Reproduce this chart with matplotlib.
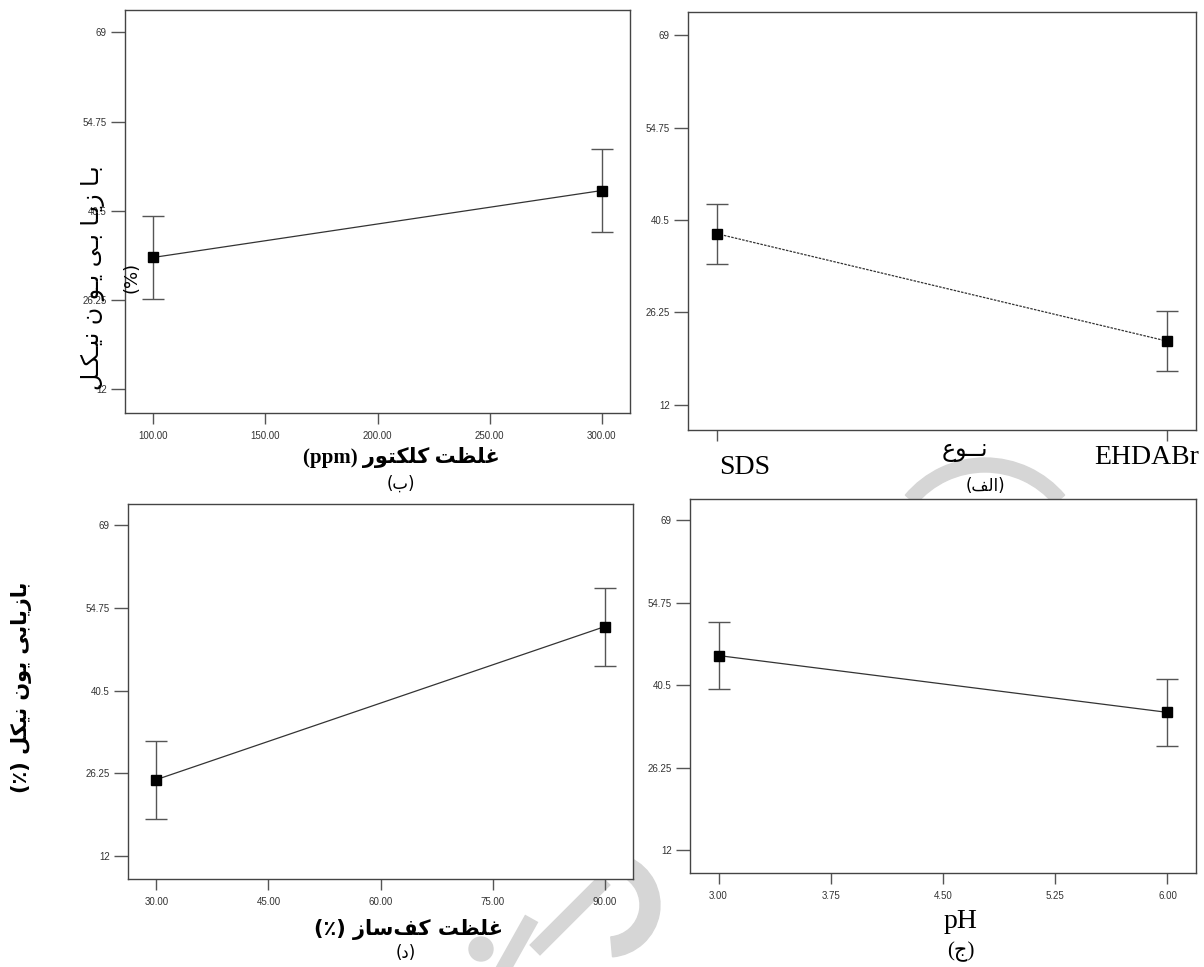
import numpy as np
import matplotlib
matplotlib.use('Agg')
import matplotlib.pyplot as plt
import matplotlib.transforms as mtransforms
from matplotlib.patches import Wedge, Circle
from matplotlib.lines import Line2D

W, H = 1204, 967

# data
y_ticks = [12, 26.25, 40.5, 54.75, 69]
y_tick_labels = ['12', '26.25', '40.5', '54.75', '69']

# (ب) collector concentration
coll_x = [100.0, 300.0]
coll_y = [33.0, 43.7]
coll_err = [6.6, 6.6]
coll_ticks = [100, 150, 200, 250, 300]

# (الف) collector type
type_names = ['SDS', 'EHDABr']
type_y = [38.4, 21.8]
type_err = [4.65, 4.65]

# (د) frother concentration
froth_x = [30.0, 90.0]
froth_y = [25.2, 51.5]
froth_err = [6.7, 6.7]
froth_ticks = [30, 45, 60, 75, 90]

# (ج) pH
ph_x = [3.0, 6.0]
ph_y = [45.6, 35.8]
ph_err = [5.8, 5.8]
ph_ticks = [3.0, 3.75, 4.5, 5.25, 6.0]

# simple arabic shaping (presentation forms), returns visual order
FORMS = {
    'ا': ('\uFE8D', '\uFE8E', None, None),
    'ب': ('\uFE8F', '\uFE90', '\uFE91', '\uFE92'),
    'ت': ('\uFE95', '\uFE96', '\uFE97', '\uFE98'),
    'ر': ('\uFEAD', '\uFEAE', None, None),
    'ز': ('\uFEAF', '\uFEB0', None, None),
    'س': ('\uFEB1', '\uFEB2', '\uFEB3', '\uFEB4'),
    'ظ': ('\uFEC5', '\uFEC6', '\uFEC7', '\uFEC8'),
    'ع': ('\uFEC9', '\uFECA', '\uFECB', '\uFECC'),
    'غ': ('\uFECD', '\uFECE', '\uFECF', '\uFED0'),
    'ف': ('\uFED1', '\uFED2', '\uFED3', '\uFED4'),
    'ک': ('\uFED9', '\uFEDA', '\uFEDB', '\uFEDC'),
    'ل': ('\uFEDD', '\uFEDE', '\uFEDF', '\uFEE0'),
    'ن': ('\uFEE5', '\uFEE6', '\uFEE7', '\uFEE8'),
    'و': ('\uFEED', '\uFEEE', None, None),
    'ی': ('\uFEEF', '\uFEF0', '\uFEF3', '\uFEF4'),
    'ـ': ('ـ', 'ـ', 'ـ', 'ـ'),
}


def shape(s):
    out = []
    for i, c in enumerate(s):
        if c not in FORMS:
            out.append(c)
            continue
        prev = s[i - 1] if i > 0 else ''
        nxt = s[i + 1] if i + 1 < len(s) else ''
        left = prev in FORMS and FORMS[prev][2] is not None
        right = FORMS[c][2] is not None and nxt in FORMS
        if left and right:
            out.append(FORMS[c][3])
        elif left:
            out.append(FORMS[c][1])
        elif right:
            out.append(FORMS[c][2])
        else:
            out.append(FORMS[c][0])
    return ''.join(out).replace('\u200c', '')[::-1]


fig = plt.figure(figsize=(W / 100, H / 100), dpi=100)
fig.patch.set_facecolor('white')


def add_ax(l, r, t, b):
    return fig.add_axes([l / W, 1 - b / H, (r - l) / W, (b - t) / H])


def ftext(x, y, s, **kw):
    fig.text(x / W, 1 - y / H, s, ha='center', va='center', **kw)


# watermark shapes (light grey)
wm = '#d6d6d6'
ident = mtransforms.IdentityTransform()
fig.add_artist(Wedge((985, H - 562), 104, 40, 140, width=14, color=wm, transform=ident, zorder=0))
fig.add_artist(Wedge((608, H - 905), 52, -85, 65, width=20, color=wm, transform=ident, zorder=0))
fig.add_artist(Circle((481, H - 949), 12, color=wm, transform=ident, zorder=0))
fig.add_artist(Line2D([500, 528], [H - 975, H - 925], lw=11, color=wm, transform=ident, zorder=0))
fig.add_artist(Line2D([540, 600], [H - 945, H - 885], lw=11, color=wm, transform=ident, zorder=0))

ax_b = add_ax(125, 630, 10, 413)
ax_a = add_ax(688, 1196, 12, 430)
ax_d = add_ax(128, 633, 504, 879)
ax_j = add_ax(690, 1196, 499, 873)


def style(ax, x0, x1):
    m = 0.0635 * (x1 - x0)
    ax.set_xlim(x0 - m, x1 + m)
    ax.set_ylim(8.1, 72.6)
    ax.set_yticks(y_ticks)
    ax.set_yticklabels(y_tick_labels)
    for sp in ax.spines.values():
        sp.set_color('#444444')
        sp.set_linewidth(1.0)
    ax.tick_params(axis='y', direction='out', length=10, width=1, color='#555555',
                   labelsize=7, labelcolor='#333333', pad=3)
    ax.tick_params(axis='x', direction='out', length=8, width=1, color='#555555',
                   labelsize=7, labelcolor='#333333', pad=5)
    for lab in ax.get_xticklabels() + ax.get_yticklabels():
        lab.set_family(['Liberation Sans', 'DejaVu Sans'])


def draw(ax, x, y, err, ls='-'):
    ax.errorbar(x, y, yerr=err, fmt='none', ecolor='#555555', elinewidth=1,
                capsize=8, capthick=1, zorder=2)
    ax.plot(x, y, color='#333333', lw=0.9, ls=ls, zorder=3)
    ax.plot(x, y, 's', color='black', ms=7.5, zorder=4)


# (ب)
draw(ax_b, coll_x, coll_y, coll_err)
ax_b.set_xticks(coll_ticks)
ax_b.set_xticklabels([f'{v:.2f}' for v in coll_ticks])
style(ax_b, 100, 300)

# (الف)
pos = np.arange(len(type_names))
draw(ax_a, pos, type_y, type_err, ls=(0, (2, 1)))
ax_a.set_xticks(pos)
ax_a.set_xticklabels(type_names)
style(ax_a, 0, 1)
ax_a.tick_params(axis='x', labelsize=20, labelcolor='black', pad=10)
for lab, dx, dy in zip(ax_a.get_xticklabels(), [28, -21], [0, 10]):
    lab.set_family('Liberation Serif')
    lab.set_transform(lab.get_transform() +
                      mtransforms.ScaledTranslation(dx / 100, dy / 100, fig.dpi_scale_trans))

# (د)
draw(ax_d, froth_x, froth_y, froth_err)
ax_d.set_xticks(froth_ticks)
ax_d.set_xticklabels([f'{v:.2f}' for v in froth_ticks])
style(ax_d, 30, 90)

# (ج)
draw(ax_j, ph_x, ph_y, ph_err)
ax_j.set_xticks(ph_ticks)
ax_j.set_xticklabels([f'{v:.2f}' for v in ph_ticks])
style(ax_j, 3, 6)

# axis labels and panel letters
ftext(401, 458, '(ppm) ' + shape('غلظت کلکتور'), fontsize=15, fontweight='bold',
      family=['Liberation Serif', 'DejaVu Sans'])
ftext(401, 484, '(' + shape('ب') + ')', fontsize=12, family=['DejaVu Sans'])

ftext(965, 450, shape('نــوع'), fontsize=17, family=['DejaVu Sans'])
ftext(985, 486, '(' + shape('الف') + ')', fontsize=12, family=['DejaVu Sans'])

ftext(408, 929, '(٪) ' + shape('غلظت کف\u200cساز'), fontsize=15, fontweight='bold',
      family=['DejaVu Sans'])
ftext(406, 953, '(' + shape('د') + ')', fontsize=12, family=['DejaVu Sans'])

ftext(961, 922, 'pH', fontsize=20, family=['Liberation Serif'])
ftext(961, 952, '(ج)', fontsize=15, family=['Liberation Serif', 'DejaVu Sans'])

ftext(22, 687, '(٪) ' + shape('بازیابی یون نیکل'), fontsize=15, fontweight='bold',
      rotation=90, family=['DejaVu Sans'])

# broken vertical label in the upper-left panel
ftext(93, 278, shape('بـا زیـا بـی یـو ن نیـکـل'), fontsize=17, rotation=90,
      family=['DejaVu Sans'])
ftext(131, 277, '(%)', fontsize=13, rotation=90, family=['DejaVu Sans'])

fig.savefig('out.png', dpi=100)
